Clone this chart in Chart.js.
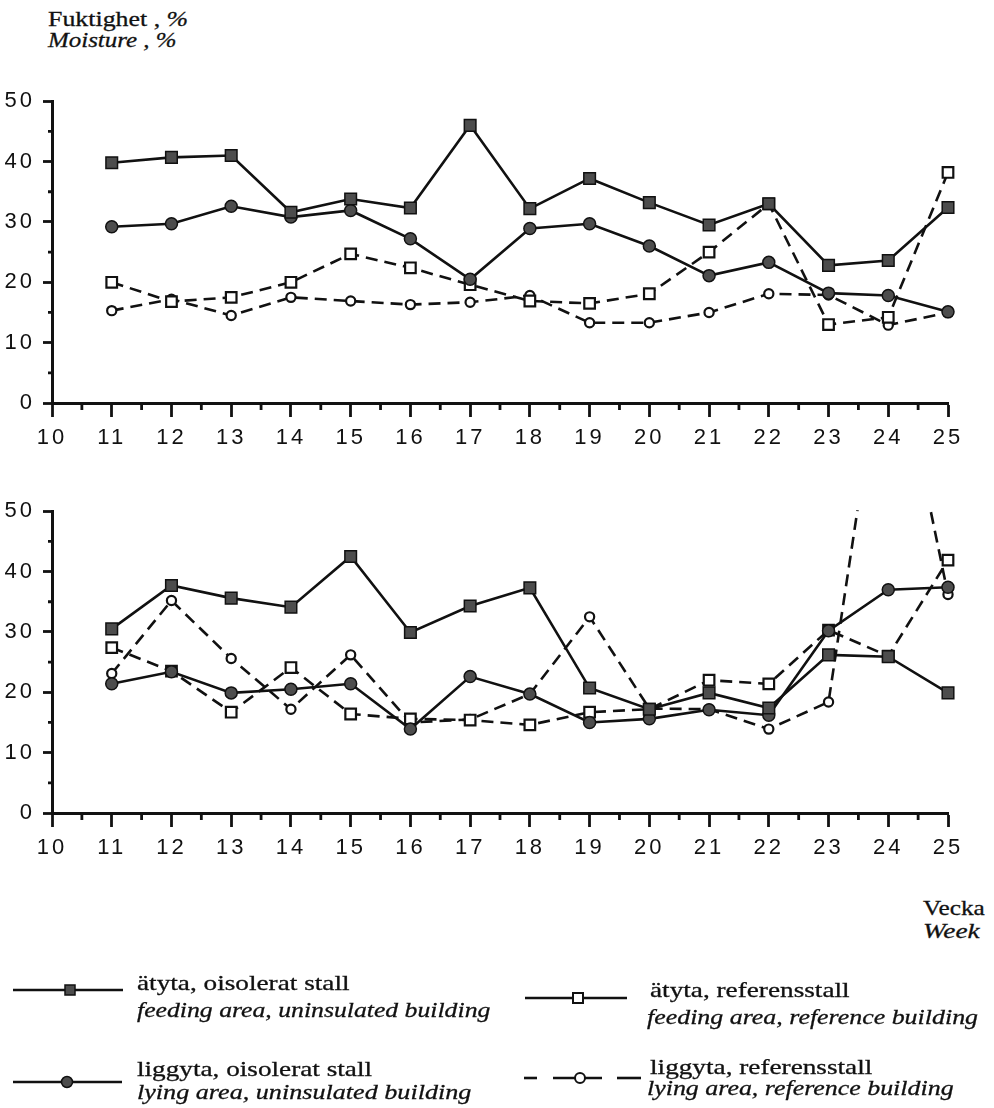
<!DOCTYPE html>
<html lang="sv">
<head>
<meta charset="utf-8">
<title>Fuktighet / Moisture</title>
<script src="https://cdn.jsdelivr.net/npm/chart.js@4.4.1/dist/chart.umd.min.js"></script>
<style>
  html, body { margin: 0; padding: 0; background: #fff; }
  body { position: relative; width: 994px; height: 1108px; overflow: hidden;
         font-family: "Liberation Serif", "Times New Roman", serif; color: #111; }
  canvas { position: absolute; left: 0; }
  #topChart { top: 80px; }
  #bottomChart { top: 490px; }
  .txt { position: absolute; white-space: nowrap; font-size: 22px; line-height: 22px;
         transform-origin: 0 0; -webkit-text-stroke: 0.3px #111; }
  .it { font-style: italic; }
  .rt { transform-origin: 100% 0; }
  .key { position: absolute; left: 0; top: 0; }
</style>
</head>
<body>

<div class="txt" style="left:48px; top:8px" data-w="140">Fuktighet , <i>%</i></div>
<div class="txt it" style="left:48px; top:29px" data-w="128">Moisture , %</div>

<canvas id="topChart" width="994" height="380"></canvas>
<canvas id="bottomChart" width="994" height="380"></canvas>

<div class="txt rt" style="right:9px; top:897px" data-w="62">Vecka</div>
<div class="txt it rt" style="right:14px; top:920px" data-w="57">Week</div>

<!-- legend samples -->
<svg class="key" width="994" height="1108">
  <g stroke="#111" stroke-width="2.6" fill="none">
    <line x1="13" y1="990" x2="123" y2="990"/>
    <line x1="13" y1="1082" x2="122" y2="1082"/>
    <line x1="525" y1="998" x2="627" y2="998"/>
    <line x1="524" y1="1078" x2="537" y2="1078"/>
    <line x1="553" y1="1078" x2="602" y2="1078"/>
    <line x1="617" y1="1078" x2="641" y2="1078"/>
  </g>
  <rect x="65" y="985" width="10" height="10" fill="#4d4d4d" stroke="#111" stroke-width="1.5"/>
  <circle cx="67" cy="1082" r="5.5" fill="#4d4d4d" stroke="#111" stroke-width="1.5"/>
  <rect x="573" y="993" width="10" height="10" fill="#fff" stroke="#111" stroke-width="2"/>
  <circle cx="580" cy="1078" r="5" fill="#fff" stroke="#111" stroke-width="2"/>
</svg>

<div class="txt" style="left:137px; top:972px" data-w="213" data-g="reg">ätyta, oisolerat stall</div>
<div class="txt it" style="left:137px; top:999px" data-w="353" data-g="ita">feeding area, uninsulated building</div>
<div class="txt" style="left:137px; top:1058px" data-w="235" data-g="reg">liggyta, oisolerat stall</div>
<div class="txt it" style="left:137px; top:1081px" data-w="335" data-g="ita">lying area, uninsulated building</div>

<div class="txt" style="left:650px; top:979px" data-g="reg">ätyta, referensstall</div>
<div class="txt it" style="left:647px; top:1006px" data-g="ita">feeding area, reference building</div>
<div class="txt" style="left:650px; top:1056px" data-g="reg">liggyta, referensstall</div>
<div class="txt it" style="left:647px; top:1077px" data-g="ita">lying area, reference building</div>

<script>
/*jslint browser:true, indent:2*/
/*globals Chart*/
(function () {
  'use strict';

  // week numbers and axis ticks
  var weeks = [11, 12, 13, 14, 15, 16, 17, 18, 19, 20, 21, 22, 23, 24, 25];
  var weekTicks = [10, 11, 12, 13, 14, 15, 16, 17, 18, 19, 20, 21, 22, 23, 24, 25];
  var moistureTicks = [0, 10, 20, 30, 40, 50];

  // upper panel, moisture %
  var topFeedUninsulated = [39.8, 40.7, 41.0, 31.6, 33.8, 32.3, 46.0, 32.2, 37.2, 33.2, 29.5, 33.0, 22.8, 23.6, 32.4];
  var topLyingUninsulated = [29.2, 29.7, 32.6, 30.8, 31.9, 27.2, 20.5, 28.9, 29.7, 26.0, 21.1, 23.3, 18.2, 17.8, 15.1];
  var topFeedReference = [20.0, 16.8, 17.5, 20.0, 24.7, 22.4, 19.6, 16.9, 16.5, 18.1, 25.0, 33.0, 13.0, 14.2, 38.2];
  var topLyingReference = [15.3, 17.2, 14.5, 17.5, 16.9, 16.3, 16.7, 17.8, 13.3, 13.3, 15.0, 18.1, 17.9, 12.9, 15.0];

  // lower panel, moisture %
  var botFeedUninsulated = [30.5, 37.7, 35.6, 34.1, 42.5, 29.9, 34.3, 37.3, 20.7, 17.2, 19.9, 17.4, 26.2, 25.9, 19.9];
  var botLyingUninsulated = [21.4, 23.4, 19.9, 20.5, 21.4, 13.9, 22.6, 19.7, 15.0, 15.6, 17.1, 16.2, 30.2, 37.0, 37.4];
  var botFeedReference = [27.4, 23.5, 16.7, 24.1, 16.4, 15.6, 15.4, 14.6, 16.7, 17.2, 22.0, 21.4, 30.3, 26.0, 41.9];
  var botLyingReference = [23.1, 35.2, 25.6, 17.2, 26.2, 15.0, 15.5, 19.7, 32.5, 17.3, 17.2, 13.9, 18.4, 84.0, 36.2];

  var ink = '#111';
  var grey = '#4d4d4d';
  var dash = [12, 7];

  var styles = {
    feedUninsulated: { pointStyle: 'rect', pointRadius: 8.2, pointBackgroundColor: grey, pointBorderWidth: 1.5, borderDash: [] },
    lyingUninsulated: { pointStyle: 'circle', pointRadius: 6, pointBackgroundColor: grey, pointBorderWidth: 1.5, borderDash: [] },
    feedReference: { pointStyle: 'rect', pointRadius: 7.5, pointBackgroundColor: '#fff', pointBorderWidth: 2.2, borderDash: dash },
    lyingReference: { pointStyle: 'circle', pointRadius: 4.6, pointBackgroundColor: '#fff', pointBorderWidth: 2.2, borderDash: dash }
  };

  function points(values) {
    return weeks.map(function (w, i) {
      return { x: w, y: values[i] };
    });
  }

  function dataset(label, values, style, order) {
    return {
      label: label,
      data: points(values),
      order: order,
      borderColor: ink,
      borderWidth: 2.6,
      borderDash: style.borderDash,
      tension: 0,
      pointStyle: style.pointStyle,
      pointRadius: style.pointRadius,
      pointBackgroundColor: style.pointBackgroundColor,
      pointBorderColor: ink,
      pointBorderWidth: style.pointBorderWidth,
      clip: { left: 14, right: 14, top: 1, bottom: 14 }
    };
  }

  // half-week and 5 % ticks between the labelled ones
  var minorTicks = {
    id: 'minorTicks',
    afterDraw: function (chart) {
      var ctx = chart.ctx, xs = chart.scales.x, ys = chart.scales.y, i, px, py;
      ctx.save();
      ctx.strokeStyle = ink;
      ctx.lineWidth = 2.8;
      ctx.beginPath();
      for (i = 0; i < weekTicks.length - 1; i += 1) {
        px = xs.getPixelForValue((weekTicks[i] + weekTicks[i + 1]) / 2);
        ctx.moveTo(px, ys.bottom);
        ctx.lineTo(px, ys.bottom + 7);
      }
      for (i = 0; i < moistureTicks.length - 1; i += 1) {
        py = ys.getPixelForValue((moistureTicks[i] + moistureTicks[i + 1]) / 2);
        ctx.moveTo(xs.left, py);
        ctx.lineTo(xs.left - 4, py);
      }
      ctx.stroke();
      ctx.restore();
    }
  };

  // the old typewriter-like spacing of the axis digits
  var tickSpacing = {
    id: 'tickSpacing',
    beforeDraw: function (chart) { chart.ctx.letterSpacing = '3px'; },
    beforeDatasetsDraw: function (chart) { chart.ctx.letterSpacing = '0px'; }
  };

  function makeChart(id, series, padTop) {
    var tickFont = { family: '"Liberation Sans", Arial, sans-serif', size: 22 };
    return new Chart(document.getElementById(id), {
      type: 'line',
      data: {
        datasets: [
          dataset('ätyta, oisolerat stall', series[0], styles.feedUninsulated, 0),
          dataset('liggyta, oisolerat stall', series[1], styles.lyingUninsulated, 1),
          dataset('ätyta, referensstall', series[2], styles.feedReference, 2),
          dataset('liggyta, referensstall', series[3], styles.lyingReference, 3)
        ]
      },
      options: {
        responsive: false,
        animation: false,
        devicePixelRatio: 1,
        events: [],
        layout: { padding: { top: padTop, right: 46, bottom: 0, left: 0 } },
        plugins: { legend: { display: false }, tooltip: { enabled: false } },
        scales: {
          x: {
            type: 'linear',
            min: weekTicks[0],
            max: weekTicks[weekTicks.length - 1],
            afterBuildTicks: function (scale) {
              scale.ticks = weekTicks.map(function (v) { return { value: v }; });
            },
            afterFit: function (scale) { scale.height = 57; },
            ticks: { color: ink, font: tickFont, padding: 8, maxRotation: 0, autoSkip: false },
            grid: { drawOnChartArea: false, tickLength: 14, tickWidth: 2.8, tickColor: ink },
            border: { color: ink, width: 3 }
          },
          y: {
            min: moistureTicks[0],
            max: moistureTicks[moistureTicks.length - 1],
            afterBuildTicks: function (scale) {
              scale.ticks = moistureTicks.map(function (v) { return { value: v }; });
            },
            afterFit: function (scale) { scale.width = 52; },
            ticks: { color: ink, font: tickFont, padding: 8 },
            grid: { drawOnChartArea: false, tickLength: 9, tickWidth: 2.8, tickColor: ink },
            border: { color: ink, width: 3 }
          }
        }
      },
      plugins: [tickSpacing, minorTicks]
    });
  }

  makeChart('topChart', [topFeedUninsulated, topLyingUninsulated, topFeedReference, topLyingReference], 20);
  makeChart('bottomChart', [botFeedUninsulated, botLyingUninsulated, botFeedReference, botLyingReference], 18);

  // stretch the serif captions to the width of the original typeface
  var groups = {};
  Array.prototype.forEach.call(document.querySelectorAll('[data-w]'), function (el) {
    var k = Number(el.getAttribute('data-w')) / el.offsetWidth;
    el.style.transform = 'scaleX(' + k.toFixed(3) + ')';
    var g = el.getAttribute('data-g');
    if (g) {
      groups[g] = groups[g] || [];
      groups[g].push(k);
    }
  });
  Array.prototype.forEach.call(document.querySelectorAll('[data-g]:not([data-w])'), function (el) {
    var ks = groups[el.getAttribute('data-g')];
    var k = ks.reduce(function (a, b) { return a + b; }, 0) / ks.length;
    el.style.transform = 'scaleX(' + k.toFixed(3) + ')';
  });
}());
</script>
</body>
</html>
